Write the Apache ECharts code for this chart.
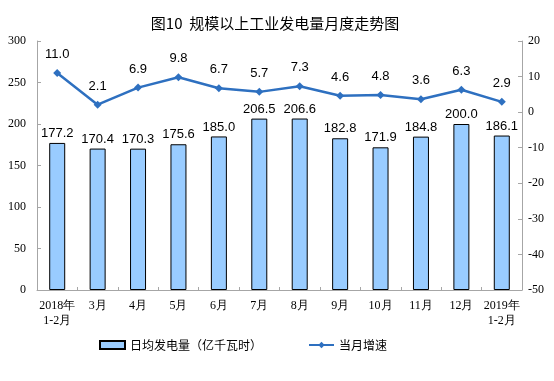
<!DOCTYPE html>
<html><head><meta charset="utf-8">
<script src="https://cdn.jsdelivr.net/npm/echarts@6/dist/echarts.min.js"></script>
<style>html,body{margin:0;padding:0;background:#fff}#c{width:554px;height:381px}</style>
</head><body><div id="c"></div>
<script>
var categories = ['2018年\n1-2月','3月','4月','5月','6月','7月','8月','9月','10月','11月','12月','2019年\n1-2月'];
var dailyGen = [177.2,170.4,170.3,175.6,185.0,206.5,206.6,182.8,171.9,184.8,200.0,186.1];
var growth = [11.0,2.1,6.9,9.8,6.7,5.7,7.3,4.6,4.8,3.6,6.3,2.9];
var leftTicks = [0,300,50];
var rightTicks = [-50,20,10];

var serif = '"Liberation Serif","DejaVu Serif",serif';
var sans = '"Liberation Sans","Noto Sans CJK SC",sans-serif';
var cjk = '"Noto Sans CJK SC",sans-serif';
var axisGray = '#a6a6a6';
var chart = echarts.init(document.getElementById('c'));
chart.setOption({
  animation:false,
  title:{text:'图10  规模以上工业发电量月度走势图',left:270,textAlign:'center',top:11,
    textStyle:{fontFamily:cjk,fontSize:15,fontWeight:'normal',color:'#000'}},
  grid:{left:37,right:32,top:41,bottom:91},
  legend:[
    {bottom:25,left:94,itemWidth:25,itemHeight:8,itemGap:5,
     textStyle:{fontFamily:cjk,fontSize:12,color:'#000'},
     data:[{name:'日均发电量（亿千瓦时）',icon:'rect'}]},
    {bottom:25,left:303,itemWidth:25,itemHeight:8,
     textStyle:{fontFamily:cjk,fontSize:12,color:'#000'},
     data:[{name:'当月增速'}]}
  ],
  xAxis:{type:'category',data:categories,
    axisLine:{lineStyle:{color:axisGray}},
    axisTick:{show:true,inside:true,length:3,lineStyle:{color:axisGray}},
    axisLabel:{fontFamily:serif,fontSize:12,color:'#000',lineHeight:15,interval:0,margin:8}},
  yAxis:[
    {type:'value',min:leftTicks[0],max:leftTicks[1],interval:leftTicks[2],
     splitLine:{show:false},axisLine:{show:true,lineStyle:{color:axisGray}},
     axisTick:{show:true,inside:true,length:4,lineStyle:{color:axisGray}},
     axisLabel:{fontFamily:serif,fontSize:12,color:'#000',margin:11}},
    {type:'value',min:rightTicks[0],max:rightTicks[1],interval:rightTicks[2],
     splitLine:{show:false},axisLine:{show:true,lineStyle:{color:axisGray}},
     axisTick:{show:true,inside:true,length:4,lineStyle:{color:axisGray}},
     axisLabel:{fontFamily:serif,fontSize:12,color:'#000',margin:6}}
  ],
  series:[
    {name:'日均发电量（亿千瓦时）',type:'bar',data:dailyGen,barWidth:16,
     itemStyle:{color:'#99CCFF',borderColor:'#000',borderWidth:1},
     label:{show:true,position:'top',distance:3,formatter:function(p){return p.value.toFixed(1);},
       fontFamily:sans,fontSize:13,color:'#000'}},
    {name:'当月增速',type:'line',yAxisIndex:1,data:growth,
     symbol:'diamond',symbolSize:8,
     lineStyle:{color:'#2E70C0',width:2.5},itemStyle:{color:'#2E70C0'},
     label:{show:true,position:'top',distance:8,formatter:function(p){return p.value.toFixed(1);},
       fontFamily:sans,fontSize:13,color:'#000'}}
  ]
});
</script></body></html>
